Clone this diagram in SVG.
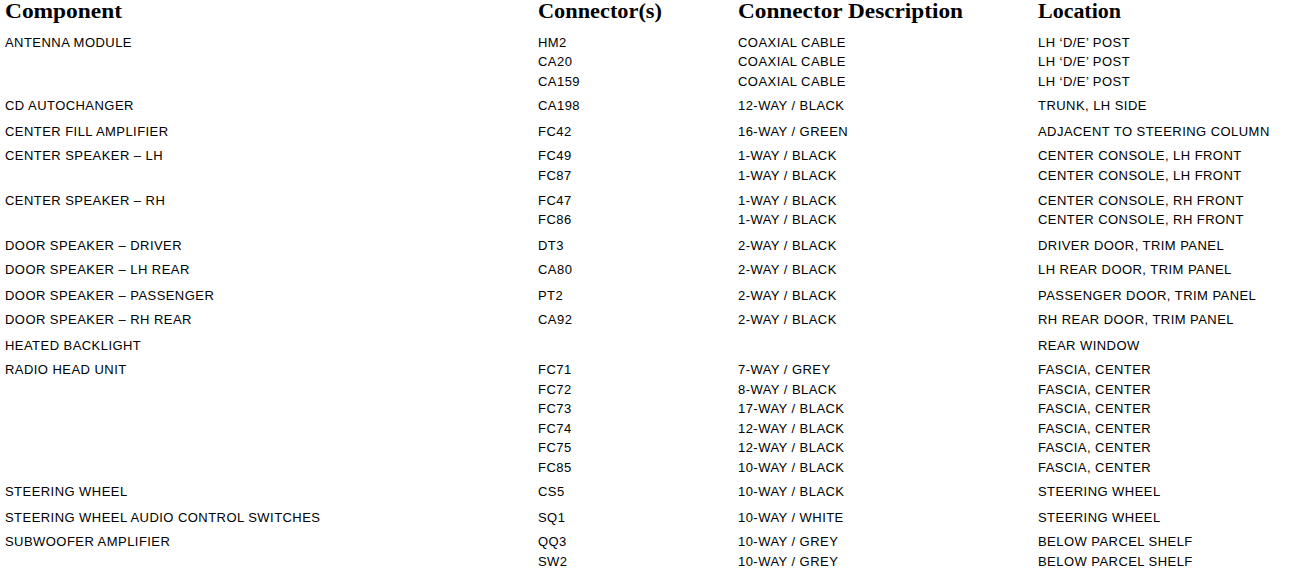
<svg xmlns="http://www.w3.org/2000/svg" width="1312" height="584" viewBox="0 0 1312 584">
<style>
.h{font-family:"Liberation Serif","DejaVu Serif",serif;font-weight:bold;font-size:20px;fill:#000}
.t{font-family:"Liberation Sans",Arial,sans-serif;font-size:13px;letter-spacing:0.45px;fill:#000}
</style>
<rect width="1312" height="584" fill="#fff"/>
<g id="header">
<text class="h" x="5" y="18" textLength="117" lengthAdjust="spacingAndGlyphs">Component</text>
<text class="h" x="538" y="18" textLength="124" lengthAdjust="spacingAndGlyphs">Connector(s)</text>
<text class="h" x="738" y="18" textLength="225" lengthAdjust="spacingAndGlyphs">Connector Description</text>
<text class="h" x="1038" y="18" textLength="83" lengthAdjust="spacingAndGlyphs">Location</text>
</g>
<g id="row-antenna-module" class="t">
<text class="t" x="5" y="47">ANTENNA MODULE</text>
<text class="t" x="538" y="47">HM2</text><text class="t" x="738" y="47">COAXIAL CABLE</text><text class="t" x="1038" y="47">LH ‘D/E’ POST</text>
<text class="t" x="538" y="66">CA20</text><text class="t" x="738" y="66">COAXIAL CABLE</text><text class="t" x="1038" y="66">LH ‘D/E’ POST</text>
<text class="t" x="538" y="86">CA159</text><text class="t" x="738" y="86">COAXIAL CABLE</text><text class="t" x="1038" y="86">LH ‘D/E’ POST</text>
</g>
<g id="row-cd-autochanger">
<text class="t" x="5" y="110">CD AUTOCHANGER</text>
<text class="t" x="538" y="110">CA198</text><text class="t" x="738" y="110">12-WAY / BLACK</text><text class="t" x="1038" y="110">TRUNK, LH SIDE</text>
</g>
<g id="row-center-fill-amplifier">
<text class="t" x="5" y="136">CENTER FILL AMPLIFIER</text>
<text class="t" x="538" y="136">FC42</text><text class="t" x="738" y="136">16-WAY / GREEN</text><text class="t" x="1038" y="136">ADJACENT TO STEERING COLUMN</text>
</g>
<g id="row-center-speaker-lh">
<text class="t" x="5" y="160">CENTER SPEAKER – LH</text>
<text class="t" x="538" y="160">FC49</text><text class="t" x="738" y="160">1-WAY / BLACK</text><text class="t" x="1038" y="160">CENTER CONSOLE, LH FRONT</text>
<text class="t" x="538" y="180">FC87</text><text class="t" x="738" y="180">1-WAY / BLACK</text><text class="t" x="1038" y="180">CENTER CONSOLE, LH FRONT</text>
</g>
<g id="row-center-speaker-rh">
<text class="t" x="5" y="205">CENTER SPEAKER – RH</text>
<text class="t" x="538" y="205">FC47</text><text class="t" x="738" y="205">1-WAY / BLACK</text><text class="t" x="1038" y="205">CENTER CONSOLE, RH FRONT</text>
<text class="t" x="538" y="224">FC86</text><text class="t" x="738" y="224">1-WAY / BLACK</text><text class="t" x="1038" y="224">CENTER CONSOLE, RH FRONT</text>
</g>
<g id="row-door-speaker-driver">
<text class="t" x="5" y="250">DOOR SPEAKER – DRIVER</text>
<text class="t" x="538" y="250">DT3</text><text class="t" x="738" y="250">2-WAY / BLACK</text><text class="t" x="1038" y="250">DRIVER DOOR, TRIM PANEL</text>
</g>
<g id="row-door-speaker-lh-rear">
<text class="t" x="5" y="274">DOOR SPEAKER – LH REAR</text>
<text class="t" x="538" y="274">CA80</text><text class="t" x="738" y="274">2-WAY / BLACK</text><text class="t" x="1038" y="274">LH REAR DOOR, TRIM PANEL</text>
</g>
<g id="row-door-speaker-passenger">
<text class="t" x="5" y="300">DOOR SPEAKER – PASSENGER</text>
<text class="t" x="538" y="300">PT2</text><text class="t" x="738" y="300">2-WAY / BLACK</text><text class="t" x="1038" y="300">PASSENGER DOOR, TRIM PANEL</text>
</g>
<g id="row-door-speaker-rh-rear">
<text class="t" x="5" y="324">DOOR SPEAKER – RH REAR</text>
<text class="t" x="538" y="324">CA92</text><text class="t" x="738" y="324">2-WAY / BLACK</text><text class="t" x="1038" y="324">RH REAR DOOR, TRIM PANEL</text>
</g>
<g id="row-heated-backlight">
<text class="t" x="5" y="350">HEATED BACKLIGHT</text>
<text class="t" x="1038" y="350">REAR WINDOW</text>
</g>
<g id="row-radio-head-unit">
<text class="t" x="5" y="374">RADIO HEAD UNIT</text>
<text class="t" x="538" y="374">FC71</text><text class="t" x="738" y="374">7-WAY / GREY</text><text class="t" x="1038" y="374">FASCIA, CENTER</text>
<text class="t" x="538" y="394">FC72</text><text class="t" x="738" y="394">8-WAY / BLACK</text><text class="t" x="1038" y="394">FASCIA, CENTER</text>
<text class="t" x="538" y="413">FC73</text><text class="t" x="738" y="413">17-WAY / BLACK</text><text class="t" x="1038" y="413">FASCIA, CENTER</text>
<text class="t" x="538" y="433">FC74</text><text class="t" x="738" y="433">12-WAY / BLACK</text><text class="t" x="1038" y="433">FASCIA, CENTER</text>
<text class="t" x="538" y="452">FC75</text><text class="t" x="738" y="452">12-WAY / BLACK</text><text class="t" x="1038" y="452">FASCIA, CENTER</text>
<text class="t" x="538" y="472">FC85</text><text class="t" x="738" y="472">10-WAY / BLACK</text><text class="t" x="1038" y="472">FASCIA, CENTER</text>
</g>
<g id="row-steering-wheel">
<text class="t" x="5" y="496">STEERING WHEEL</text>
<text class="t" x="538" y="496">CS5</text><text class="t" x="738" y="496">10-WAY / BLACK</text><text class="t" x="1038" y="496">STEERING WHEEL</text>
</g>
<g id="row-steering-wheel-audio-control-switches">
<text class="t" x="5" y="522">STEERING WHEEL AUDIO CONTROL SWITCHES</text>
<text class="t" x="538" y="522">SQ1</text><text class="t" x="738" y="522">10-WAY / WHITE</text><text class="t" x="1038" y="522">STEERING WHEEL</text>
</g>
<g id="row-subwoofer-amplifier">
<text class="t" x="5" y="546">SUBWOOFER AMPLIFIER</text>
<text class="t" x="538" y="546">QQ3</text><text class="t" x="738" y="546">10-WAY / GREY</text><text class="t" x="1038" y="546">BELOW PARCEL SHELF</text>
<text class="t" x="538" y="566">SW2</text><text class="t" x="738" y="566">10-WAY / GREY</text><text class="t" x="1038" y="566">BELOW PARCEL SHELF</text>
</g>
<g id="connectors"></g>
</svg>
